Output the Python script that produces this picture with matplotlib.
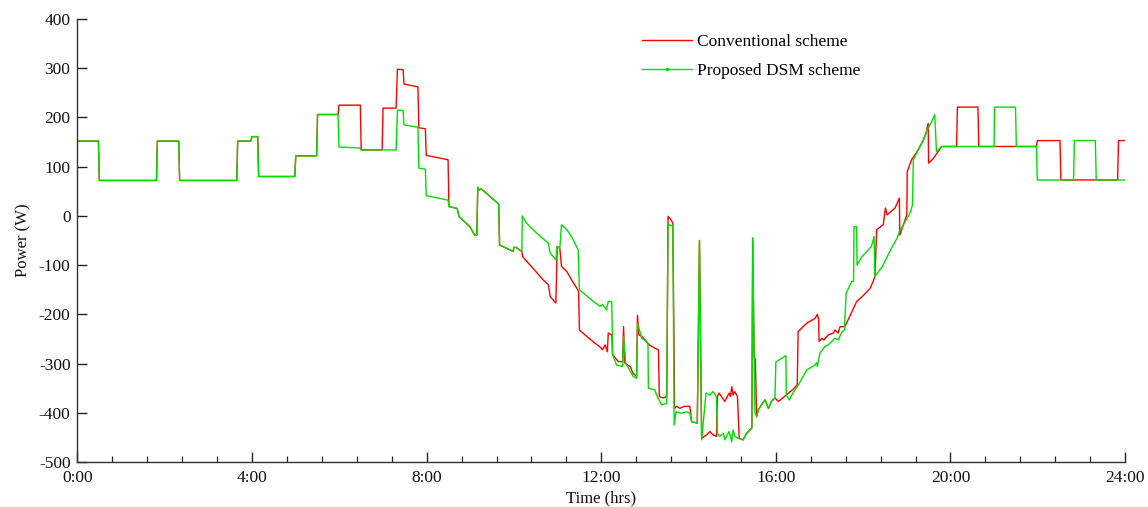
import matplotlib
matplotlib.use("Agg")
import matplotlib.pyplot as plt
from matplotlib.lines import Line2D
from matplotlib.ticker import MultipleLocator

plt.rcParams['font.family'] = ['Liberation Serif', 'DejaVu Serif']
plt.rcParams['axes.unicode_minus'] = False

# ---------------- data (hours, watts) ----------------
conv_pts = [
    (0, 152), (0.48, 152), (0.50, 72), (1.81, 72), (1.83, 152), (2.32, 152), (2.34, 72),
    (3.65, 72), (3.67, 152), (3.97, 152), (4.0, 161), (4.13, 161), (4.15, 80), (4.98, 80),
    (5.0, 122), (5.48, 122), (5.5, 206), (5.97, 206), (5.99, 225), (6.48, 225), (6.5, 134),
    (6.98, 134), (7.0, 219), (7.30, 219), (7.33, 298), (7.46, 297), (7.48, 268), (7.80, 262),
    (7.82, 179), (7.97, 177), (7.99, 123), (8.49, 114), (8.51, 19), (8.7, 15), (8.74, -1),
    (8.99, -22), (9.1, -39), (9.15, -39), (9.17, 58), (9.2, 52), (9.25, 55), (9.37, 46),
    (9.65, 24), (9.67, -59), (9.98, -72), (10.0, -64), (10.05, -64), (10.14, -70), (10.18, -72),
    (10.2, -83), (10.67, -130), (10.79, -140), (10.83, -164), (10.96, -177), (10.99, -62),
    (11.05, -66), (11.09, -103), (11.21, -113), (11.32, -130), (11.44, -147), (11.48, -154),
    (11.5, -232), (11.67, -245), (11.86, -259), (11.97, -266), (12.03, -272), (12.09, -262),
    (12.14, -276), (12.16, -238), (12.24, -242), (12.26, -282), (12.39, -296), (12.49, -296),
    (12.51, -225), (12.54, -299), (12.66, -306), (12.73, -320), (12.81, -326), (12.83, -202),
    (12.86, -242), (12.93, -245), (13.1, -262), (13.23, -269), (13.31, -272), (13.33, -367),
    (13.42, -370), (13.5, -367), (13.53, -1), (13.6, -8), (13.64, -15), (13.68, -391),
    (13.73, -387), (13.8, -391), (13.9, -387), (14.03, -387), (14.07, -418), (14.2, -421),
    (14.25, -50), (14.3, -452), (14.41, -445), (14.49, -438), (14.56, -445), (14.64, -448),
    (14.66, -367), (14.7, -360), (14.83, -377), (14.93, -360), (14.96, -367), (14.99, -347),
    (15.02, -364), (15.06, -357), (15.12, -367), (15.16, -452), (15.25, -455), (15.33, -442),
    (15.45, -431), (15.47, -45), (15.5, -286), (15.53, -292), (15.56, -408), (15.6, -394),
    (15.67, -384), (15.75, -374), (15.83, -391), (15.9, -377), (15.98, -370), (16.06, -377),
    (16.24, -364), (16.39, -353), (16.49, -343), (16.51, -235), (16.71, -218), (16.9, -208),
    (16.95, -200), (16.98, -210), (16.99, -255), (17.05, -249), (17.1, -252), (17.2, -242),
    (17.32, -238), (17.35, -232), (17.43, -238), (17.47, -225), (17.58, -225), (17.7, -203),
    (17.85, -174), (17.93, -168), (18.08, -155), (18.16, -147), (18.23, -133), (18.27, -123),
    (18.31, -28), (18.46, -18), (18.51, 16), (18.55, 2), (18.73, 16), (18.83, 36), (18.84, -39),
    (19.0, 2), (19.01, 90), (19.11, 114), (19.26, 134), (19.38, 154), (19.44, 168), (19.49, 188),
    (19.5, 107), (19.61, 117), (19.72, 131), (19.8, 141), (20.14, 141), (20.16, 221),
    (20.63, 221), (20.65, 141), (21.97, 141), (21.99, 153), (22.51, 153), (22.53, 73),
    (23.83, 73), (23.85, 153), (24, 153),
]

dsm_pts = [
    (0, 152), (0.48, 152), (0.50, 72), (1.81, 72), (1.83, 152), (2.32, 152), (2.34, 72),
    (3.65, 72), (3.67, 152), (3.97, 152), (4.0, 161), (4.13, 161), (4.15, 80), (4.98, 80),
    (5.0, 122), (5.48, 122), (5.5, 206), (5.97, 206), (5.99, 140), (6.48, 138), (6.5, 134),
    (7.30, 134), (7.33, 215), (7.46, 214), (7.48, 185), (7.80, 180), (7.82, 97), (7.97, 95),
    (7.99, 41), (8.49, 32), (8.51, 19), (8.7, 15), (8.74, -1), (8.99, -22), (9.1, -39),
    (9.15, -39), (9.17, 58), (9.2, 52), (9.25, 55), (9.37, 46), (9.65, 24), (9.67, -59),
    (9.98, -72), (10.0, -64), (10.05, -64), (10.14, -70), (10.18, -72), (10.19, 0),
    (10.29, -15), (10.52, -35), (10.79, -56), (10.83, -76), (10.96, -89), (10.99, -62),
    (11.05, -66), (11.09, -18), (11.21, -28), (11.32, -42), (11.47, -69), (11.5, -150),
    (11.78, -171), (11.97, -184), (12.03, -180), (12.12, -191), (12.16, -174), (12.24, -174),
    (12.26, -282), (12.35, -303), (12.49, -306), (12.51, -245), (12.56, -299), (12.73, -326),
    (12.81, -330), (12.83, -218), (12.93, -249), (13.04, -255), (13.07, -262), (13.08, -350),
    (13.23, -354), (13.27, -364), (13.34, -377), (13.38, -384), (13.5, -381), (13.53, -18),
    (13.64, -20), (13.67, -425), (13.71, -398), (13.84, -401), (13.96, -398), (14.03, -401),
    (14.07, -418), (14.2, -421), (14.25, -50), (14.3, -455), (14.4, -360), (14.49, -364),
    (14.56, -357), (14.64, -367), (14.66, -442), (14.72, -448), (14.8, -442), (14.83, -455),
    (14.93, -438), (14.99, -459), (15.02, -435), (15.06, -448), (15.14, -452), (15.25, -455),
    (15.33, -442), (15.45, -431), (15.47, -45), (15.52, -400), (15.56, -408), (15.6, -394),
    (15.67, -384), (15.75, -374), (15.83, -391), (15.9, -377), (15.98, -370), (16.0, -297),
    (16.23, -284), (16.24, -364), (16.31, -374), (16.39, -360), (16.49, -347), (16.71, -313),
    (16.9, -303), (16.93, -298), (16.95, -306), (17.01, -279), (17.12, -266), (17.2, -262),
    (17.35, -249), (17.43, -252), (17.5, -238), (17.57, -232), (17.61, -157), (17.74, -133),
    (17.78, -133), (17.79, -22), (17.85, -22), (17.86, -100), (17.97, -83), (18.08, -73),
    (18.19, -62), (18.25, -42), (18.27, -123), (18.44, -103), (18.55, -83), (18.67, -62),
    (18.78, -45), (18.83, -32), (18.96, -12), (19.07, 5), (19.13, 22), (19.15, 114),
    (19.26, 134), (19.38, 154), (19.47, 175), (19.55, 188), (19.64, 205), (19.68, 131),
    (19.8, 141), (21.0, 141), (21.01, 221), (21.49, 221), (21.51, 141), (21.97, 141),
    (21.99, 73), (22.82, 73), (22.84, 153), (23.32, 153), (23.34, 73), (24, 73),
]

conv_hours = [p[0] for p in conv_pts]
conv_power = [p[1] for p in conv_pts]
dsm_hours = [p[0] for p in dsm_pts]
dsm_power = [p[1] for p in dsm_pts]

x_tick_pos = [0, 4, 8, 12, 16, 20, 24]
x_tick_labels = ["0:00", "4:00", "8:00", "12:00", "16:00", "20:00", "24:00"]
y_ticks = [-500, -400, -300, -200, -100, 0, 100, 200, 300, 400]

RED = '#ff0000'
GREEN = '#00e000'
FS = 12.5

fig = plt.figure(figsize=(11.48, 5.07), dpi=100)
ax = fig.add_axes([0.0675, 0.0888, 0.9125, 0.8737])

ax.plot(conv_hours, conv_power, color=RED, lw=1.0)
ax.plot(dsm_hours, dsm_power, color=GREEN, lw=1.0)

ax.set_xlim(0, 24)
ax.set_ylim(-500, 400)
ax.set_xticks(x_tick_pos)
ax.set_xticklabels(x_tick_labels)
ax.xaxis.set_minor_locator(MultipleLocator(0.8))
ax.set_yticks(y_ticks)

for s in ['top', 'right']:
    ax.spines[s].set_visible(False)
for s in ['left', 'bottom']:
    ax.spines[s].set_color('#333333')
    ax.spines[s].set_linewidth(1.0)

ax.tick_params(axis='both', which='major', direction='in', length=7.5, width=1.0,
               color='#222222', labelsize=FS, labelcolor='#111111')
ax.tick_params(axis='x', which='major', pad=6)
ax.tick_params(axis='y', which='major', pad=5)
ax.tick_params(axis='x', which='minor', direction='in', length=4, width=0.9, color='#222222')

ax.set_xlabel("Time (hrs)", fontsize=12, labelpad=3, color='#111111')
ax.set_ylabel("Power (W)", fontsize=12, labelpad=5, color='#111111')

handles = [Line2D([], [], color=RED, lw=1.0),
           Line2D([], [], color=GREEN, lw=1.0, marker='.', markersize=3)]
ax.legend(handles, ["Conventional scheme", "Proposed DSM scheme"], loc='upper left',
          bbox_to_anchor=(0.5355, 0.9745), frameon=False, fontsize=FS,
          handlelength=2.9, handletextpad=0.3, labelspacing=0.77, borderpad=0.2,
          borderaxespad=0)

fig.savefig("out.png", dpi=100)
